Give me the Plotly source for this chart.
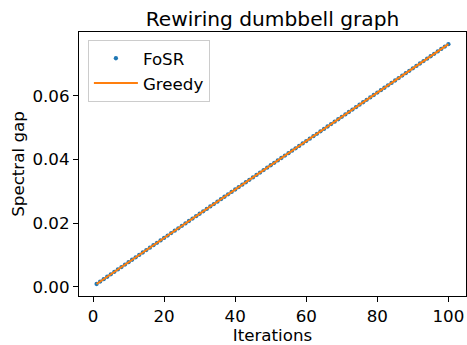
import plotly.graph_objects as go

iterations = list(range(1, 101))

fosr_gap = [
    0.00085, 0.00161, 0.00237, 0.00313, 0.00389, 0.00466, 0.00542, 0.00618, 0.00694, 0.00770,
    0.00846, 0.00922, 0.00998, 0.01074, 0.01150, 0.01227, 0.01303, 0.01379, 0.01455, 0.01531,
    0.01607, 0.01683, 0.01759, 0.01835, 0.01911, 0.01988, 0.02064, 0.02140, 0.02216, 0.02292,
    0.02368, 0.02444, 0.02520, 0.02596, 0.02672, 0.02749, 0.02825, 0.02901, 0.02977, 0.03053,
    0.03129, 0.03205, 0.03281, 0.03357, 0.03433, 0.03510, 0.03586, 0.03662, 0.03738, 0.03814,
    0.03890, 0.03966, 0.04042, 0.04118, 0.04194, 0.04271, 0.04347, 0.04423, 0.04499, 0.04575,
    0.04651, 0.04727, 0.04803, 0.04879, 0.04955, 0.05032, 0.05108, 0.05184, 0.05260, 0.05336,
    0.05412, 0.05488, 0.05564, 0.05640, 0.05716, 0.05793, 0.05869, 0.05945, 0.06021, 0.06097,
    0.06173, 0.06249, 0.06325, 0.06401, 0.06477, 0.06554, 0.06630, 0.06706, 0.06782, 0.06858,
    0.06934, 0.07010, 0.07086, 0.07162, 0.07238, 0.07315, 0.07391, 0.07467, 0.07543, 0.07619,
]

greedy_gap = [
    0.00085, 0.00161, 0.00237, 0.00313, 0.00389, 0.00466, 0.00542, 0.00618, 0.00694, 0.00770,
    0.00846, 0.00922, 0.00998, 0.01074, 0.01150, 0.01227, 0.01303, 0.01379, 0.01455, 0.01531,
    0.01607, 0.01683, 0.01759, 0.01835, 0.01911, 0.01988, 0.02064, 0.02140, 0.02216, 0.02292,
    0.02368, 0.02444, 0.02520, 0.02596, 0.02672, 0.02749, 0.02825, 0.02901, 0.02977, 0.03053,
    0.03129, 0.03205, 0.03281, 0.03357, 0.03433, 0.03510, 0.03586, 0.03662, 0.03738, 0.03814,
    0.03890, 0.03966, 0.04042, 0.04118, 0.04194, 0.04271, 0.04347, 0.04423, 0.04499, 0.04575,
    0.04651, 0.04727, 0.04803, 0.04879, 0.04955, 0.05032, 0.05108, 0.05184, 0.05260, 0.05336,
    0.05412, 0.05488, 0.05564, 0.05640, 0.05716, 0.05793, 0.05869, 0.05945, 0.06021, 0.06097,
    0.06173, 0.06249, 0.06325, 0.06401, 0.06477, 0.06554, 0.06630, 0.06706, 0.06782, 0.06858,
    0.06934, 0.07010, 0.07086, 0.07162, 0.07238, 0.07315, 0.07391, 0.07467, 0.07543, 0.07619,
]

x_ticks = [0, 20, 40, 60, 80, 100]
y_ticks = [0.0, 0.02, 0.04, 0.06]
y_tick_labels = ["0.00", "0.02", "0.04", "0.06"]

FONT = "DejaVu Sans"
FS = 16.7

fig = go.Figure()
fig.add_trace(go.Scatter(
    x=iterations, y=fosr_gap, mode="markers", name="FoSR",
    marker=dict(color="#1f77b4", size=4.3, line=dict(width=0)),
))
fig.add_trace(go.Scatter(
    x=iterations, y=greedy_gap, mode="lines", name="Greedy",
    line=dict(color="#ff7f0e", width=2),
))

axis_common = dict(
    showgrid=False, zeroline=False, showline=True, linecolor="black", linewidth=1.1,
    mirror=True, ticks="outside", ticklen=5, tickwidth=1.1, tickcolor="black",
    tickfont=dict(family=FONT, size=FS, color="black"),
)

fig.update_layout(
    width=467, height=345,
    margin=dict(l=79, r=1, t=32, b=49),
    plot_bgcolor="white", paper_bgcolor="white",
    font=dict(family=FONT, size=FS, color="black"),
    title=dict(text="Rewiring dumbbell graph", x=0.5, xref="paper", xanchor="center",
               y=1, yref="paper", yanchor="bottom", pad=dict(b=6),
               font=dict(family=FONT, size=20.2, color="black")),
    xaxis=dict(range=[-3.95, 104.95], tickvals=x_ticks,
               title=dict(text="Iterations", font=dict(family=FONT, size=FS), standoff=2),
               **axis_common),
    yaxis=dict(range=[-0.00292, 0.0800], tickvals=y_ticks, ticktext=y_tick_labels,
               title=dict(text="Spectral gap", font=dict(family=FONT, size=FS), standoff=3),
               **axis_common),
    legend=dict(x=0.023, y=0.97, xanchor="left", yanchor="top", itemwidth=44,
                bgcolor="rgba(255,255,255,0.8)", bordercolor="#cccccc", borderwidth=1,
                font=dict(family=FONT, size=FS, color="black")),
    showlegend=True,
)

fig.write_html("out.html")
